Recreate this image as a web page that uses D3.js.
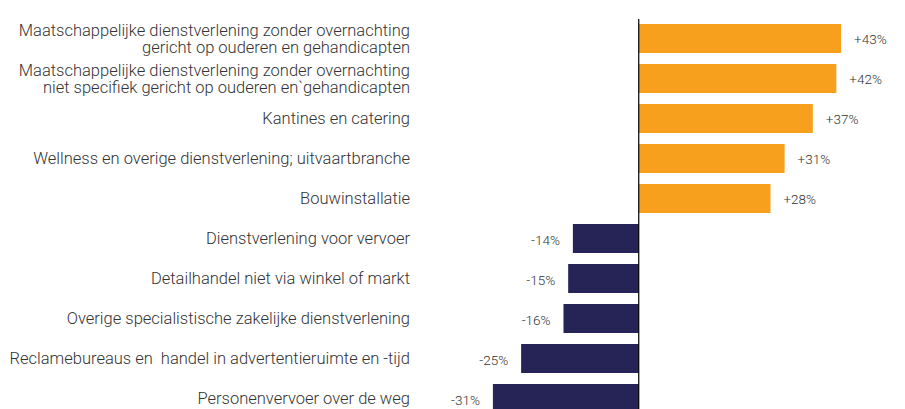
<!DOCTYPE html>
<html>
<head>
<meta charset="utf-8">
<script src="https://cdn.jsdelivr.net/npm/d3@7"></script>
<style>
  body { margin: 0; background: #fff; }
  text { font-family: Roboto, "Open Sans", sans-serif; }
</style>
</head>
<body>
<div id="chart"></div>
<script>
const categories = [
  ["Maatschappelijke dienstverlening zonder overnachting", "gericht op ouderen en gehandicapten"],
  ["Maatschappelijke dienstverlening zonder overnachting", "niet specifiek gericht op ouderen en`gehandicapten"],
  ["Kantines en catering"],
  ["Wellness en overige dienstverlening; uitvaartbranche"],
  ["Bouwinstallatie"],
  ["Dienstverlening voor vervoer"],
  ["Detailhandel niet via winkel of markt"],
  ["Overige specialistische zakelijke dienstverlening"],
  ["Reclamebureaus en  handel in advertentieruimte en -tijd"],
  ["Personenvervoer over de weg"]
];
const values = [43, 42, 37, 31, 28, -14, -15, -16, -25, -31];
const valueLabels = ["+43%", "+42%", "+37%", "+31%", "+28%", "-14%", "-15%", "-16%", "-25%", "-31%"];

const width = 905;
const height = 409;

const svg = d3.select("#chart")
  .append("svg")
  .attr("width", width)
  .attr("height", height);

const x = d3.scaleLinear()
  .domain([-50, 50])
  .range([403.5, 874]);

const y = d3.scaleBand()
  .domain(d3.range(values.length))
  .range([24, 413])
  .paddingInner(0.275)
  .paddingOuter(0);

const data = values.map((v, i) => ({ v, i, label: valueLabels[i], cat: categories[i] }));

// bars
svg.selectAll("rect.bar")
  .data(data)
  .enter()
  .append("rect")
  .attr("class", "bar")
  .attr("x", d => x(Math.min(0, d.v)))
  .attr("y", d => y(d.i))
  .attr("width", d => Math.abs(x(d.v) - x(0)))
  .attr("height", y.bandwidth())
  .attr("fill", d => d.v >= 0 ? "#f7a01e" : "#262357");

// zero line
svg.append("line")
  .attr("x1", x(0)).attr("x2", x(0))
  .attr("y1", 19).attr("y2", height)
  .attr("stroke", "#000")
  .attr("stroke-width", 1.2);

// value labels
svg.selectAll("text.val")
  .data(data)
  .enter()
  .append("text")
  .attr("class", "val")
  .attr("x", d => d.v >= 0 ? x(d.v) + 13 : x(d.v) - 13)
  .attr("y", d => y(d.i) + y.bandwidth() / 2 + (d.v >= 0 ? 0.5 : 2))
  .attr("dy", "0.35em")
  .attr("text-anchor", d => d.v >= 0 ? "start" : "end")
  .attr("font-size", 13.5)
  .attr("font-weight", 300)
  .attr("fill", "#333")
  .text(d => d.label);

// category labels
const cats = svg.selectAll("text.cat")
  .data(data)
  .enter()
  .append("text")
  .attr("class", "cat")
  .attr("text-anchor", "end")
  .attr("font-size", 16.5)
  .attr("font-weight", 300)
  .attr("fill", "#333")
  .style("white-space", "pre")
  .attr("transform", d => `translate(410, ${y(d.i) + y.bandwidth() / 2})`);

cats.selectAll("tspan")
  .data(d => d.cat.map((t, k) => ({ t, k, n: d.cat.length })))
  .enter()
  .append("tspan")
  .attr("x", 0)
  .attr("y", d => (d.k - (d.n - 1) / 2) * 16.5)
  .attr("dy", "0.35em")
  .text(d => d.t);
</script>
</body>
</html>
